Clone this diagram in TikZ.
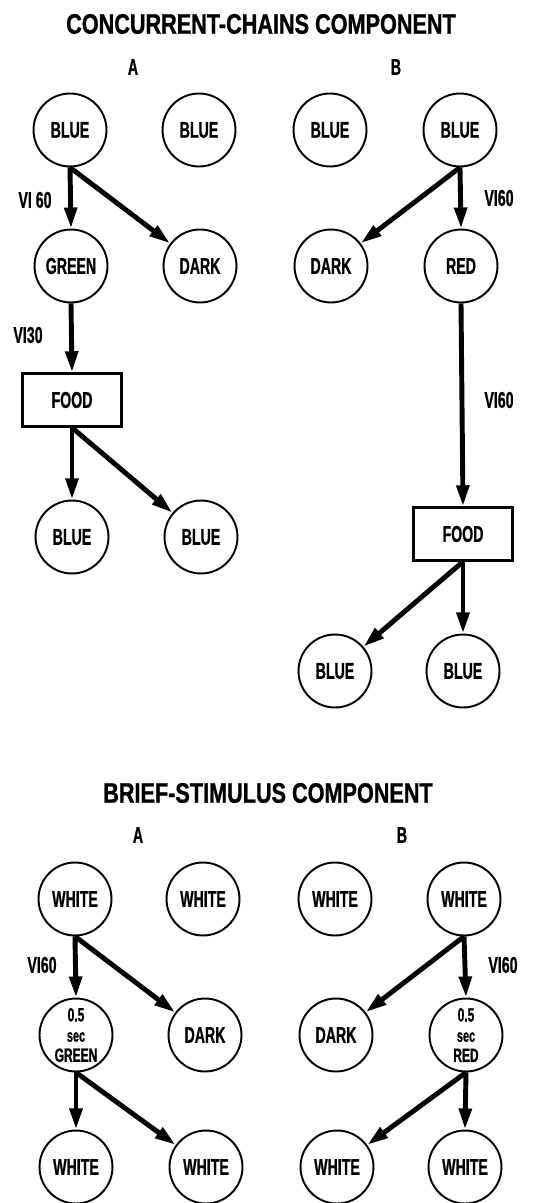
\documentclass[tikz,border=0pt]{standalone}
\usepackage{fontspec}
\setmainfont{Liberation Sans}
\newfontfamily\lblfont{Liberation Sans}[FakeStretch=0.62,FakeBold=0.8]
\newfontfamily\ttlfont{Liberation Sans}[FakeStretch=0.77,FakeBold=1]
\usetikzlibrary{arrows.meta}

\begin{document}
\begin{tikzpicture}[x=0.02cm,y=-0.02cm,-{Triangle[length=12pt,width=7pt]},line width=2.8pt,
    state/.style={circle,draw,line width=1.1pt,minimum size=1.46cm,inner sep=0pt,
      font=\lblfont\bfseries\fontsize{13}{13}\selectfont},
    brief/.style={state,align=center,font=\lblfont\bfseries\fontsize{11}{11.5}\selectfont},
    foodbox/.style={rectangle,draw,line width=1.3pt,minimum width=1.98cm,minimum height=1.06cm,
      font=\lblfont\bfseries\fontsize{13}{13}\selectfont},
    lbl/.style={font=\lblfont\bfseries\fontsize{13}{13}\selectfont},
    heading/.style={font=\ttlfont\bfseries\fontsize{16}{16}\selectfont}]
  \useasboundingbox (0,0) rectangle (553,1203);

  \node[heading] (title1) at (261,24) {CONCURRENT-CHAINS COMPONENT};
  \node[lbl] (ca) at (133,67) {A};
  \node[lbl] (cb) at (396,67) {B};

  \node[state] (ca1) at (70,130) {BLUE};
  \node[state] (ca2) at (199,130) {BLUE};
  \node[state] (ca3) at (71,266) {GREEN};
  \node[state] (ca4) at (200,266) {DARK};
  \node[foodbox] (cafood) at (72,400) {FOOD};
  \node[state] (ca5) at (72,537) {BLUE};
  \node[state] (ca6) at (201,537) {BLUE};

  \node[state] (cb1) at (330,130) {BLUE};
  \node[state] (cb2) at (460,130) {BLUE};
  \node[state] (cb3) at (331,266) {DARK};
  \node[state] (cb4) at (461,266) {RED};
  \node[foodbox] (cbfood) at (463,534) {FOOD};
  \node[state] (cb5) at (335,671) {BLUE};
  \node[state] (cb6) at (463,671) {BLUE};

  \node[lbl] (vica1) at (35,200) {VI 60};
  \node[lbl] (vica2) at (28,335) {VI30};
  \node[lbl] (vicb1) at (499,198) {VI60};
  \node[lbl] (vicb2) at (499,400) {VI60};

  \draw (ca1.south) -- (ca3.north);
  \draw (ca1.south) -- (ca4);
  \draw (ca3.south) -- (cafood.north);
  \draw (cafood.south) -- (ca5.north);
  \draw (cafood.south) -- (ca6);

  \draw (cb2.south) -- (cb4.north);
  \draw (cb2.south) -- (cb3);
  \draw (cb4.south) -- (cbfood.north);
  \draw (cbfood.south) -- (cb6.north);
  \draw (cbfood.south) -- (cb5);

  \node[heading] (title2) at (268,793) {BRIEF-STIMULUS COMPONENT};
  \node[lbl] (ba) at (138,835) {A};
  \node[lbl] (bb) at (402,835) {B};

  \node[state] (ba1) at (75,899) {WHITE};
  \node[state] (ba2) at (203,899) {WHITE};
  \node[brief] (ba3) at (76,1035) {0.5\\{\fontsize{10}{10}\selectfont sec}\\GREEN};
  \node[state] (ba4) at (205,1035) {DARK};
  \node[state] (ba5) at (76,1167) {WHITE};
  \node[state] (ba6) at (206,1167) {WHITE};

  \node[state] (bb1) at (335,899) {WHITE};
  \node[state] (bb2) at (464,899) {WHITE};
  \node[state] (bb3) at (336,1035) {DARK};
  \node[brief] (bb4) at (466,1035) {0.5\\{\fontsize{10}{10}\selectfont sec}\\RED};
  \node[state] (bb5) at (337,1167) {WHITE};
  \node[state] (bb6) at (465,1167) {WHITE};

  \node[lbl] (viba) at (42,965) {VI60};
  \node[lbl] (vibb) at (503,965) {VI60};

  \draw (ba1.south) -- (ba3.north);
  \draw (ba1.south) -- (ba4);
  \draw (ba3.south) -- (ba5.north);
  \draw (ba3.south) -- (ba6);

  \draw (bb2.south) -- (bb4.north);
  \draw (bb2.south) -- (bb3);
  \draw (bb4.south) -- (bb6.north);
  \draw (bb4.south) -- (bb5);
\end{tikzpicture}
\end{document}
